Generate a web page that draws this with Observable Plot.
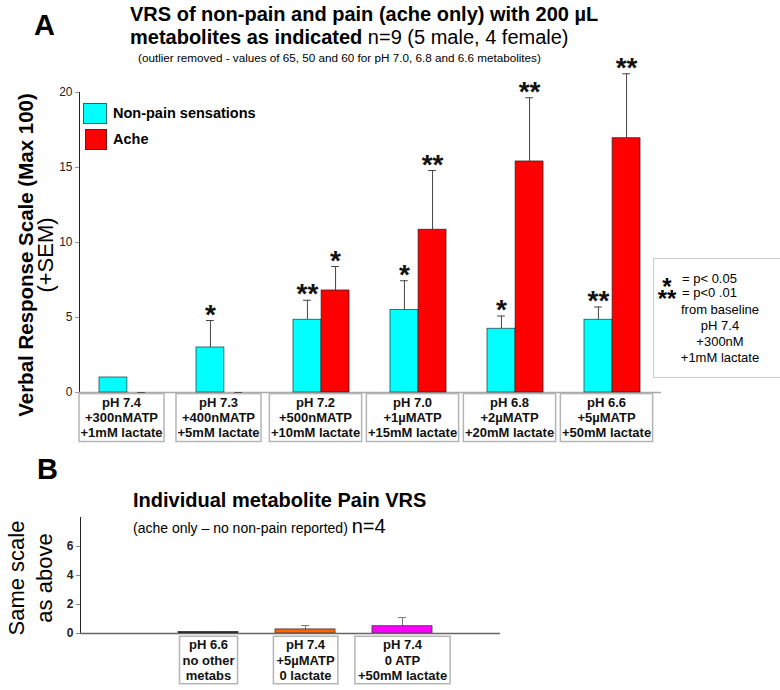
<!DOCTYPE html>
<html><head><meta charset="utf-8">
<script src="https://cdn.jsdelivr.net/npm/d3@7"></script>
<script src="https://cdn.jsdelivr.net/npm/@observablehq/plot@0.6"></script>
<style>
body{margin:0;background:#fff;}
#root{position:relative;width:780px;height:690px;overflow:hidden;font-family:"Liberation Sans",Arial,sans-serif;color:#000;background:#fff;}
.abs{position:absolute;white-space:nowrap;}
.plotwrap{position:absolute;}
.plotwrap svg{max-width:none;overflow:visible;}
</style></head><body><div id="root"></div>
<script>
// ---------- Panel A data ----------
const groupsA = [
  "pH 7.4\n+300nMATP\n+1mM lactate",
  "pH 7.3\n+400nMATP\n+5mM lactate",
  "pH 7.2\n+500nMATP\n+10mM lactate",
  "pH 7.0\n+1µMATP\n+15mM lactate",
  "pH 6.8\n+2µMATP\n+20mM lactate",
  "pH 6.6\n+5µMATP\n+50mM lactate"
];
const nonPain    = [1.0, 3.0, 4.85, 5.5, 4.25, 4.85];
const nonPainSEM = [0, 1.8, 1.3, 1.95, 0.85, 0.85];
const ache       = [0, 0, 6.8, 10.85, 15.4, 16.95];
const acheSEM    = [0, 0, 1.6, 3.95, 4.25, 4.3];
const nonPainSig = ["", "*", "**", "*", "*", "**"];
const acheSig    = ["", "", "*", "**", "**", "**"];
const yTicksA = [0, 5, 10, 15, 20];
const seriesNames = ["Non-pain sensations", "Ache"];
const seriesColors = ["#00ffff", "#ff0000"];

// ---------- Panel B data ----------
const catsB = [
  "pH 6.6\nno other\nmetabs",
  "pH 7.4\n+5µMATP\n0 lactate",
  "pH 7.4\n0 ATP\n+50mM lactate"
];
const valuesB = [0.1, 0.28, 0.5];
const semB    = [0, 0.27, 0.6];
const colorsB = ["#000000", "#ff6600", "#ff00ff"];
const yTicksB = [0, 2, 4, 6];

const FONT = '"Liberation Sans", Arial, sans-serif';
const root = document.getElementById("root");

function addDiv(html, css) {
  const d = document.createElement("div");
  d.className = "abs";
  d.innerHTML = html;
  Object.assign(d.style, css);
  root.appendChild(d);
  return d;
}

function boxLabels(svg, desc, padX, padY, stroke) {
  const g = svg.querySelector(`g[aria-description="${desc}"]`);
  if (!g) return;
  g.querySelectorAll("text").forEach(t => {
    const b = t.getBBox();
    const r = document.createElementNS("http://www.w3.org/2000/svg", "rect");
    r.setAttribute("x", b.x - padX);
    r.setAttribute("y", b.y - padY);
    r.setAttribute("width", b.width + 2 * padX);
    r.setAttribute("height", b.height + 2 * padY);
    r.setAttribute("fill", "white");
    r.setAttribute("stroke", stroke);
    r.setAttribute("stroke-width", 1.5);
    const tr = t.getAttribute("transform");
    if (tr) r.setAttribute("transform", tr);
    g.insertBefore(r, t);
  });
}

function styleAxis(svg, color) {
  svg.querySelectorAll('g[aria-label^="y-axis"] path, g[aria-label^="y-axis"] line').forEach(p => {
    p.setAttribute("stroke", color);
    p.style.stroke = color;
  });
}

// ---------- Panel A ----------
const rowsNP = groupsA.map((g, i) => ({group: g, value: nonPain[i], top: nonPain[i] + nonPainSEM[i], sig: nonPainSig[i]}));
const rowsAc = groupsA.map((g, i) => ({group: g, value: ache[i], top: ache[i] + acheSEM[i], sig: acheSig[i]}));

const widthA = 661, mLA = 79, padIn = 0.42, padOut = 0.21;
const stepA = (widthA - mLA) / (groupsA.length - padIn + 2 * padOut);
const halfA = stepA * (1 - padIn) / 2;
const capA = 4;

const plotA = Plot.plot({
  width: widthA, height: 397,
  marginLeft: mLA, marginRight: 0, marginTop: 42, marginBottom: 55,
  style: {fontFamily: FONT, fontSize: "12px", background: "transparent", color: "#222", overflow: "visible"},
  x: {domain: groupsA, paddingInner: padIn, paddingOuter: padOut, axis: null},
  y: {domain: [0, 20], ticks: yTicksA, tickSize: 4, tickPadding: 3, line: true, label: null},
  marks: [
    Plot.ruleY([0], {stroke: "#aaa", strokeWidth: 1.5}),
    Plot.ruleX(rowsNP, {x: "group", y1: "value", y2: "top", dx: -halfA / 2, stroke: "#444", strokeWidth: 1}),
    Plot.ruleX(rowsAc, {x: "group", y1: "value", y2: "top", dx: halfA / 2, stroke: "#444", strokeWidth: 1}),
    Plot.tickY(rowsNP, {x: "group", y: "top", insetLeft: halfA / 2 - capA, insetRight: halfA * 1.5 - capA, stroke: "#444"}),
    Plot.tickY(rowsAc, {x: "group", y: "top", insetLeft: halfA * 1.5 - capA, insetRight: halfA / 2 - capA, stroke: "#444"}),
    Plot.barY(rowsNP, {x: "group", y: "value", fill: seriesColors[0], stroke: "#2a4a4a", strokeWidth: 0.8, insetRight: halfA}),
    Plot.barY(rowsAc, {x: "group", y: "value", fill: seriesColors[1], stroke: "#4a1a1a", strokeWidth: 0.8, insetLeft: halfA}),
    Plot.text(rowsNP, {x: "group", y: "top", text: "sig", dx: -halfA / 2, dy: 3, lineAnchor: "bottom", fontSize: 28, fontWeight: "bold", fill: "#111"}),
    Plot.text(rowsAc, {x: "group", y: "top", text: "sig", dx: halfA / 2, dy: 3, lineAnchor: "bottom", fontSize: 28, fontWeight: "bold", fill: "#111"}),
    Plot.text(groupsA, {x: d => d, y: () => 0, text: d => d, dx: -6, dy: 4, lineAnchor: "top", lineHeight: 1.15, fontSize: 13, fontWeight: "bold", fill: "#111", ariaDescription: "xlabels"})
  ]
});
const wrapA = document.createElement("div");
wrapA.className = "plotwrap";
Object.assign(wrapA.style, {left: "0px", top: "50px", width: widthA + "px"});
wrapA.appendChild(plotA);
root.appendChild(wrapA);
boxLabels(plotA, "xlabels", 1.5, 1.5, "#b5b5b5");
styleAxis(plotA, "#999");

// ---------- Panel B ----------
const rowsB = catsB.map((c, i) => ({cat: c, value: valuesB[i], top: valuesB[i] + semB[i], color: colorsB[i]}));
const padInB = 0.385, padOutB = 0.1925;
const rangeB = [158, 451];
const stepB = (rangeB[1] - rangeB[0]) / (catsB.length - padInB + 2 * padOutB);
const halfB = stepB * (1 - padInB) / 2;
const capB = 4;

const plotB = Plot.plot({
  width: 500, height: 181,
  marginLeft: 80, marginRight: 0, marginTop: 10, marginBottom: 55,
  style: {fontFamily: FONT, fontSize: "12px", fontWeight: "bold", background: "transparent", color: "#222", overflow: "visible"},
  x: {domain: catsB, range: rangeB, paddingInner: padInB, paddingOuter: padOutB, axis: null},
  y: {domain: [0, 8], ticks: yTicksB, tickSize: 4, tickPadding: 3, line: true, label: null},
  color: {type: "identity"},
  marks: [
    Plot.ruleX(rowsB, {x: "cat", y1: "value", y2: "top", stroke: "#777", strokeWidth: 1}),
    Plot.tickY(rowsB, {x: "cat", y: "top", insetLeft: halfB - capB, insetRight: halfB - capB, stroke: "#777"}),
    Plot.barY(rowsB, {x: "cat", y: "value", fill: "color", stroke: "#333", strokeWidth: 0.8}),
    Plot.ruleY([0], {stroke: "#666", strokeWidth: 1.5}),
    Plot.text(catsB, {x: d => d, y: () => 0, text: d => d, dy: 5, lineAnchor: "top", lineHeight: 1.17, fontSize: 13, fontWeight: "bold", fill: "#111", ariaDescription: "xlabels"})
  ]
});
const wrapB = document.createElement("div");
wrapB.className = "plotwrap";
Object.assign(wrapB.style, {left: "0px", top: "507px", width: "500px"});
wrapB.appendChild(plotB);
root.appendChild(wrapB);
boxLabels(plotB, "xlabels", 3, 1, "#b5b5b5");
styleAxis(plotB, "#888");

// ---------- Texts (titles, legend, notes) ----------
addDiv("A", {left: "34px", top: "8px", fontSize: "29px", fontWeight: "bold", lineHeight: "34px"});
addDiv("VRS of non-pain and pain (ache only) with 200 µL", {left: "130px", top: "3px", fontSize: "20px", fontWeight: "bold", lineHeight: "22px"});
addDiv('<b>metabolites as indicated</b> n=9 (5 male, 4 female)', {left: "130px", top: "26px", fontSize: "20px", lineHeight: "22px"});
addDiv("(outlier removed - values of 65, 50 and 60 for pH 7.0, 6.8 and 6.6 metabolites)", {left: "138px", top: "51px", fontSize: "11.7px", lineHeight: "13px"});

// y-axis title A (rotated)
(function () {
  const w = 380, h = 40, cx = 36, cy = 255;
  addDiv('<b>Verbal Response Scale (Max 100)</b><br><span style="font-size:22px">(+SEM)</span>', {
    left: (cx - w / 2) + "px", top: (cy - h / 2) + "px", width: w + "px", height: h + "px",
    fontSize: "20.5px", lineHeight: "20px", textAlign: "center", transform: "rotate(-90deg)", transformOrigin: "50% 50%"
  });
})();

// legend A
seriesNames.forEach((name, i) => {
  const y = [103, 129][i];
  addDiv("", {left: (i === 0 ? 83 : 85) + "px", top: y + "px", width: (i === 0 ? 22 : 20) + "px", height: "19px", background: seriesColors[i], border: "1px solid " + (i === 0 ? "#2a6a6a" : "#6a1a1a")});
  addDiv(name, {left: "113px", top: (y + 1) + "px", fontSize: "14.5px", fontWeight: "bold", lineHeight: "18px"});
});

// significance note box
addDiv("", {left: "653px", top: "258px", width: "140px", height: "120px", border: "1px solid #ccc", background: "#fff", boxSizing: "border-box"});
addDiv("*<br>**", {left: "652px", width: "30px", textAlign: "center", top: "281px", fontSize: "24px", fontWeight: "bold", lineHeight: "12px"});
addDiv("= p&lt; 0.05<br>= p&lt;0 .01", {left: "682px", top: "272px", fontSize: "13px", lineHeight: "13.5px"});
["from baseline", "pH 7.4", "+300nM", "+1mM lactate"].forEach((t, i) => {
  addDiv(t, {left: "660px", width: "120px", textAlign: "center", top: (302 + i * 16) + "px", fontSize: "13px", lineHeight: "16px"});
});

// Panel B texts
addDiv("B", {left: "37px", top: "452px", fontSize: "29px", fontWeight: "bold", lineHeight: "34px"});
addDiv("Individual metabolite Pain VRS", {left: "133px", top: "489px", fontSize: "20px", fontWeight: "bold", lineHeight: "22px"});
addDiv('(ache only – no non-pain reported) <span style="font-size:20px">n=4</span>', {left: "133px", top: "515px", fontSize: "14px", lineHeight: "22px"});
(function () {
  const w = 160, h = 56, cx = 30.5, cy = 578;
  addDiv('Same scale<br>as above', {
    left: (cx - w / 2) + "px", top: (cy - h / 2) + "px", width: w + "px", height: h + "px",
    fontSize: "22px", lineHeight: "28px", textAlign: "center", transform: "rotate(-90deg)", transformOrigin: "50% 50%"
  });
})();
</script>
</body></html>
